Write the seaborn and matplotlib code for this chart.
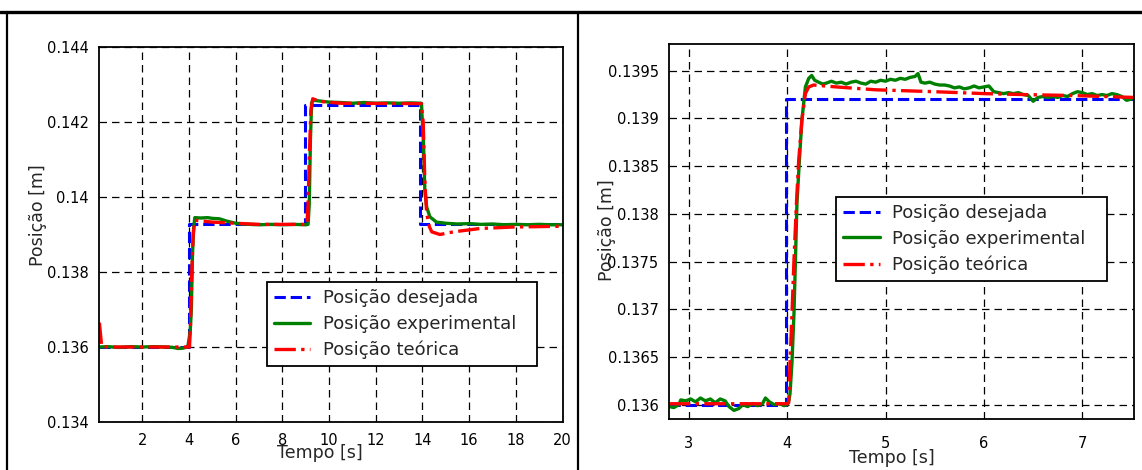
import matplotlib
matplotlib.use("Agg")
import matplotlib.pyplot as plt
from matplotlib.lines import Line2D
from matplotlib.ticker import FuncFormatter
import seaborn as sns

# ---------------- data: full test (0-20 s) ----------------
t_des_full = [0.16, 3.98, 3.98, 8.97, 8.97, 13.89, 13.89, 20.0]
pos_des_full = [0.13600, 0.13600, 0.13928, 0.13928, 0.14245, 0.14245, 0.13928, 0.13928]

t_exp_full = [0.16, 0.5, 1.0, 1.5, 2.0, 2.5, 3.0, 3.3, 3.55, 3.75, 3.95, 4.05, 4.10,
              4.15, 4.20, 4.25, 4.5, 4.8, 5.0, 5.3, 5.6, 6.0, 6.3, 6.6, 7.0, 7.5,
              8.0, 8.5, 9.0, 9.1, 9.15, 9.2, 9.25, 9.3, 9.6, 10.0, 10.5, 11.0, 11.5,
              12.0, 12.5, 13.0, 13.5, 13.95, 14.04, 14.10, 14.18, 14.32, 14.6, 15.0,
              15.5, 16.0, 16.5, 17.0, 17.5, 18.0, 18.5, 19.0, 19.5, 20.0]
pos_exp_full = [0.13600, 0.13601, 0.13599, 0.13601, 0.13600, 0.13601, 0.13600, 0.13599,
                0.13596, 0.13597, 0.13601, 0.13640, 0.13700, 0.13850, 0.13920, 0.13945,
                0.13944, 0.13945, 0.13943, 0.13942, 0.13936, 0.13930, 0.13928, 0.13927,
                0.13926, 0.13927, 0.13926, 0.13927, 0.13926, 0.13927, 0.13980, 0.14150,
                0.14250, 0.14258, 0.14256, 0.14253, 0.14252, 0.14250, 0.14252, 0.14250,
                0.14251, 0.14250, 0.14251, 0.14250, 0.14150, 0.14020, 0.13973, 0.13947,
                0.13933, 0.13930, 0.13928, 0.13929, 0.13927, 0.13928, 0.13926, 0.13927,
                0.13926, 0.13927, 0.13926, 0.13926]

t_teo_full = [0.16, 0.20, 0.26, 0.5, 4.02, 4.06, 4.12, 4.18, 4.25, 5.0, 6.0, 7.0, 9.05,
              9.1, 9.15, 9.22, 9.3, 9.6, 10.5, 13.95, 14.03, 14.1, 14.18, 14.3, 14.4,
              14.75, 15.32, 16.46, 17.9, 20.0]
pos_teo_full = [0.13665, 0.13640, 0.13602, 0.13600, 0.13600, 0.13650, 0.13800, 0.13900,
                0.13938, 0.13933, 0.13930, 0.13927, 0.13927, 0.13980, 0.14100, 0.14230,
                0.14262, 0.14255, 0.14250, 0.14249, 0.14200, 0.14045, 0.13956, 0.13920,
                0.13907, 0.13900, 0.13907, 0.13916, 0.13920, 0.13922]

# ---------------- data: detail of the first step ----------------
t_des_zoom = [2.8, 3.99, 3.99, 7.52]
pos_des_zoom = [0.13600, 0.13600, 0.13920, 0.13920]

t_exp_zoom = [2.80, 2.85, 2.90, 2.92, 2.97, 3.02, 3.07, 3.12, 3.17, 3.22, 3.27, 3.32,
              3.37, 3.41, 3.46, 3.51, 3.55, 3.60, 3.65, 3.70, 3.75, 3.78, 3.82, 3.87,
              3.92, 3.97, 4.00, 4.02, 4.03, 4.05, 4.07, 4.085, 4.10, 4.125, 4.15, 4.186,
              4.22, 4.25, 4.28, 4.32, 4.36, 4.40, 4.45, 4.50, 4.55, 4.60, 4.65, 4.70,
              4.75, 4.80, 4.85, 4.90, 4.95, 5.00, 5.05, 5.10, 5.15, 5.20, 5.25, 5.30,
              5.33, 5.36, 5.40, 5.45, 5.50, 5.55, 5.60, 5.65, 5.70, 5.75, 5.80, 5.85,
              5.90, 5.95, 6.00, 6.05, 6.10, 6.15, 6.20, 6.25, 6.30, 6.35, 6.40, 6.45,
              6.50, 6.55, 6.60, 6.65, 6.70, 6.75, 6.80, 6.85, 6.90, 6.95, 7.00, 7.05,
              7.10, 7.15, 7.20, 7.25, 7.30, 7.35, 7.40, 7.45, 7.52]
pos_exp_zoom = [0.13598, 0.13597, 0.13600, 0.13605, 0.13604, 0.13606, 0.13603, 0.13607,
                0.13604, 0.13606, 0.13602, 0.13606, 0.13604, 0.13598, 0.13594, 0.13596,
                0.13600, 0.13598, 0.13601, 0.13599, 0.13601, 0.13607, 0.13603, 0.13600,
                0.13601, 0.13599, 0.13600, 0.13605, 0.13612, 0.13645, 0.13696, 0.13752,
                0.13811, 0.13856, 0.13898, 0.13933, 0.13942, 0.13945, 0.13940, 0.13938,
                0.13936, 0.13937, 0.13939, 0.13937, 0.13938, 0.13936, 0.13938, 0.13939,
                0.13937, 0.13936, 0.13939, 0.13938, 0.13940, 0.13939, 0.13941, 0.13940,
                0.13942, 0.13941, 0.13943, 0.13944, 0.13947, 0.13938, 0.13937, 0.13938,
                0.13936, 0.13935, 0.13935, 0.13934, 0.13932, 0.13933, 0.13931, 0.13932,
                0.13934, 0.13932, 0.13933, 0.13934, 0.13928, 0.13927, 0.13926, 0.13927,
                0.13926, 0.13927, 0.13925, 0.13924, 0.13918, 0.13922, 0.13923, 0.13922,
                0.13923, 0.13922, 0.13924, 0.13923, 0.13926, 0.13928, 0.13927, 0.13925,
                0.13926, 0.13924, 0.13925, 0.13924, 0.13926, 0.13925, 0.13923, 0.13919,
                0.13921]

t_teo_zoom = [2.80, 3.95, 4.00, 4.016, 4.03, 4.05, 4.07, 4.095, 4.118, 4.15, 4.186,
              4.22, 4.27, 4.5, 4.9, 5.5, 6.0, 6.4, 6.9, 7.52]
pos_teo_zoom = [0.13601, 0.13601, 0.13601, 0.13602, 0.13645, 0.13696, 0.13752, 0.13811,
                0.13856, 0.13898, 0.13926, 0.13933, 0.13935, 0.13933, 0.13930, 0.13928,
                0.13926, 0.13925, 0.13924, 0.13922]

series_labels = ["Posição desejada", "Posição experimental", "Posição teórica"]
xticks_full = [2, 4, 6, 8, 10, 12, 14, 16, 18, 20]
yticks_full = [0.134, 0.136, 0.138, 0.140, 0.142, 0.144]
xticks_zoom = [3, 4, 5, 6, 7]
yticks_zoom = [0.1360, 0.1365, 0.1370, 0.1375, 0.1380, 0.1385, 0.1390, 0.1395]

# ---------------- style ----------------
sns.set_style("white")
plt.rcParams["font.family"] = ["DejaVu Sans"]

BLUE, GREEN, RED = "#0000ff", "#008000", "#ff0000"
styles = [
    dict(color=BLUE, linestyle="--", linewidth=2.2),
    dict(color=GREEN, linestyle="-", linewidth=2.4),
    dict(color=RED, linestyle="-.", linewidth=2.4),
]

fig = plt.figure(figsize=(11.42, 4.70), dpi=100)
ax1 = fig.add_axes([0.0870, 0.1021, 0.4056, 0.7979])
ax2 = fig.add_axes([0.5858, 0.1085, 0.4068, 0.7979])


def draw(ax, series):
    for (t, p), st in zip(series, styles):
        sns.lineplot(x=t, y=p, ax=ax, estimator=None, sort=False, legend=False, **st)


draw(ax1, [(t_des_full, pos_des_full), (t_exp_full, pos_exp_full), (t_teo_full, pos_teo_full)])
draw(ax2, [(t_des_zoom, pos_des_zoom), (t_exp_zoom, pos_exp_zoom), (t_teo_zoom, pos_teo_zoom)])


def finish(ax, xlim, ylim, xticks, yticks, xpad, xlab_xy, ylab_xy, leg_box):
    ax.set_xlim(*xlim)
    ax.set_ylim(*ylim)
    ax.set_xticks(xticks)
    ax.set_yticks(yticks)
    ax.yaxis.set_major_formatter(FuncFormatter(lambda v, _: f"{v:g}"))
    ax.tick_params(axis="both", length=0, labelsize=10.5, colors="black")
    ax.tick_params(axis="x", pad=xpad)
    ax.tick_params(axis="y", pad=7.5)
    ax.grid(True, color="black", linestyle=(0, (6, 4)), linewidth=0.9)
    ax.set_axisbelow(True)
    for sp in ax.spines.values():
        sp.set_color("black")
        sp.set_linewidth(1.3)
        sp.set_visible(True)
    ax.set_xlabel("Tempo [s]", fontsize=12.5)
    ax.set_ylabel("Posição [m]", fontsize=12.5)
    ax.xaxis.set_label_coords(*xlab_xy)
    ax.yaxis.set_label_coords(*ylab_xy)
    handles = [Line2D([], [], **st) for st in styles]
    leg = ax.legend(handles, series_labels, loc="upper left", bbox_to_anchor=leg_box,
                    mode="expand", fontsize=13, frameon=True, fancybox=False,
                    framealpha=1, edgecolor="black", handlelength=2.0,
                    handletextpad=0.7, labelspacing=0.42, borderpad=0.4,
                    borderaxespad=0)
    leg.get_frame().set_linewidth(1.3)


finish(ax1, (0.16, 20.0), (0.134, 0.144), xticks_full, yticks_full, 8,
       (0.476, -0.058), (-0.113, 0.552), (0.362, 0.144, 0.583, 0.229))
finish(ax2, (2.80, 7.52), (0.13585, 0.13978), xticks_zoom, yticks_zoom, 12,
       (0.479, -0.080), (-0.113, 0.504), (0.360, 0.363, 0.582, 0.229))

# page frame around the two panels
fig.add_artist(Line2D([0, 1], [0.975, 0.975], color="black", linewidth=2.4,
                      transform=fig.transFigure))
for xf in (0.0059, 0.5061):
    fig.add_artist(Line2D([xf, xf], [0, 0.975], color="black", linewidth=1.6,
                          transform=fig.transFigure))

fig.savefig("out.png", dpi=100, facecolor="white")
